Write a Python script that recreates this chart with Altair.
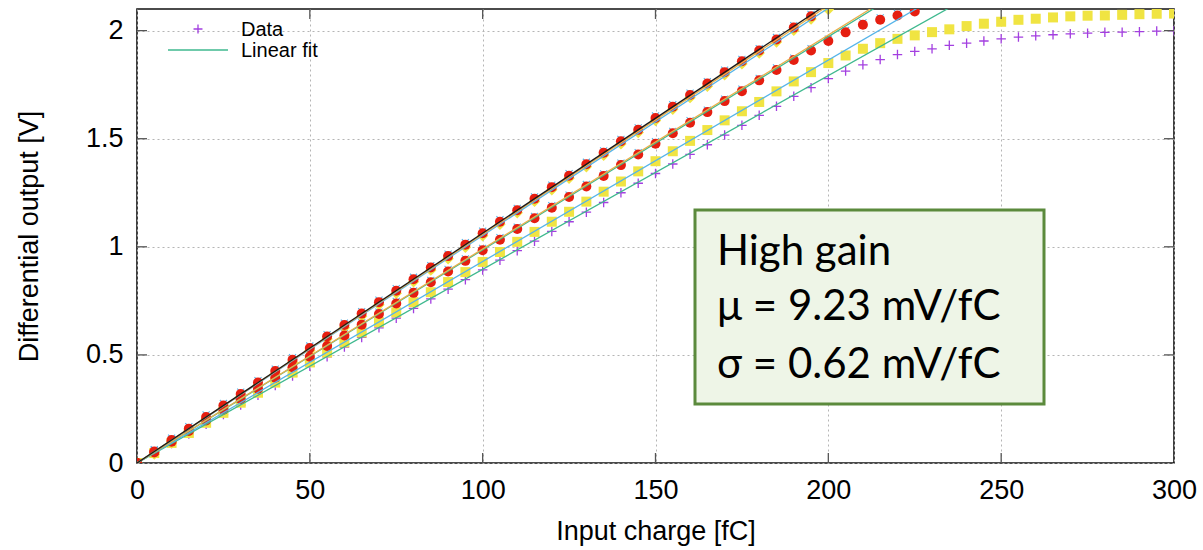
import altair as alt
import pandas as pd

# ---------------- data ----------------
charge = list(range(0, 301, 5))  # input charge grid [fC]

# lowest-gain channel (purple +), 0..300 fC
g4_plus = [0.000, 0.045, 0.090, 0.134, 0.179, 0.224, 0.268, 0.313, 0.358, 0.402,
           0.447, 0.491, 0.536, 0.581, 0.625, 0.670, 0.715, 0.759, 0.804, 0.848,
           0.893, 0.938, 0.982, 1.026, 1.071, 1.116, 1.160, 1.205, 1.250, 1.294,
           1.339, 1.383, 1.428, 1.472, 1.517, 1.562, 1.608, 1.650, 1.696, 1.736,
           1.778, 1.813, 1.842, 1.866, 1.889, 1.904, 1.916, 1.932, 1.942, 1.952,
           1.962, 1.970, 1.976, 1.981, 1.985, 1.988, 1.992, 1.993, 1.995, 1.998,
           1.999]
# yellow squares, 0..300 fC
g3_square = [0.000, 0.046, 0.093, 0.139, 0.186, 0.232, 0.279, 0.325, 0.372, 0.418,
             0.465, 0.511, 0.558, 0.604, 0.651, 0.697, 0.744, 0.790, 0.837, 0.883,
             0.930, 0.976, 1.023, 1.069, 1.116, 1.162, 1.209, 1.255, 1.302, 1.349,
             1.396, 1.442, 1.490, 1.540, 1.585, 1.627, 1.670, 1.719, 1.765, 1.808,
             1.850, 1.885, 1.916, 1.942, 1.962, 1.978, 1.993, 2.006, 2.021, 2.032,
             2.041, 2.050, 2.055, 2.061, 2.066, 2.069, 2.070, 2.073, 2.076, 2.078,
             2.079]
# second group: red circles and light-blue crosses, 0..225 fC
g2_circle = [0.000, 0.049, 0.098, 0.148, 0.197, 0.246, 0.295, 0.344, 0.394, 0.443,
             0.492, 0.541, 0.590, 0.640, 0.689, 0.738, 0.787, 0.836, 0.886, 0.935,
             0.984, 1.033, 1.082, 1.132, 1.181, 1.230, 1.279, 1.328, 1.378, 1.427,
             1.477, 1.525, 1.574, 1.623, 1.674, 1.720, 1.770, 1.818, 1.864, 1.908,
             1.952, 1.992, 2.027, 2.050, 2.070, 2.089]
g2_cross = [0.000, 0.058, 0.107, 0.157, 0.206, 0.255, 0.304, 0.353, 0.403, 0.452,
            0.501, 0.550, 0.599, 0.649, 0.698, 0.747, 0.796, 0.845, 0.895, 0.944,
            0.993, 1.042, 1.091, 1.141, 1.190, 1.239, 1.288, 1.337, 1.387, 1.436,
            1.486, 1.534, 1.583, 1.632, 1.683, 1.729, 1.779, 1.827, 1.873, 1.917,
            1.961, 2.001, 2.036, 2.059, 2.079, 2.098]
# highest group: red circles, yellow diamonds, light-blue crosses
g1_circle = [0.000, 0.053, 0.106, 0.159, 0.213, 0.266, 0.319, 0.372, 0.425, 0.478,
             0.532, 0.585, 0.638, 0.691, 0.744, 0.797, 0.850, 0.904, 0.957, 1.010,
             1.063, 1.116, 1.169, 1.222, 1.276, 1.329, 1.382, 1.435, 1.488, 1.541,
             1.596, 1.648, 1.702, 1.755, 1.808, 1.858, 1.908, 1.959, 2.014, 2.066]
g1_diamond = [0.000, 0.041, 0.094, 0.147, 0.201, 0.254, 0.307, 0.360, 0.413, 0.466,
              0.520, 0.573, 0.626, 0.679, 0.732, 0.785, 0.838, 0.892, 0.945, 0.998,
              1.051, 1.104, 1.157, 1.210, 1.264, 1.317, 1.370, 1.423, 1.476, 1.529,
              1.584, 1.636, 1.690, 1.743, 1.796, 1.846, 1.896, 1.947, 2.002, 2.054,
              2.098]
g1_cross = [0.000, 0.062, 0.115, 0.168, 0.222, 0.275, 0.328, 0.381, 0.434, 0.487,
            0.541, 0.594, 0.647, 0.700, 0.753, 0.806, 0.859, 0.913, 0.966, 1.019,
            1.072, 1.125, 1.178, 1.231, 1.285, 1.338, 1.391, 1.444, 1.497, 1.550,
            1.605, 1.657, 1.711, 1.764, 1.817, 1.867, 1.917, 1.968, 2.023, 2.075]

# linear fits (slope in mV/fC) and their colours
fit_ids = ["f1", "f2", "f3", "f4", "f5", "f6", "f7"]
fit_slopes = [8.96, 9.32, 9.86, 9.90, 10.52, 10.58, 10.63]
fit_colors = ["#3fb98f", "#56b4e9", "#3fb98f", "#e9b04c", "#56b4e9", "#e9b04c", "#1a1a1a"]

x_ticks = [0, 50, 100, 150, 200, 250, 300]
y_ticks = [0, 0.5, 1, 1.5, 2]

box_lines = ["High gain", "\u03bc = 9.23 mV/fC", "\u03c3 = 0.62 mV/fC"]
legend_labels = ["Data", "Linear fit"]

# ---------------- layout ----------------
W, H = 1037, 454
PLUS = "M-1,0L1,0M0,-1L0,1"
XSHAPE = "M-1,-1L1,1M-1,1L1,-1"
PURPLE = "#a33fe0"
LBLUE = "#56b4e9"
YELLOW = "#f0e442"
RED = "#e51e10"

xscale = alt.Scale(domain=[0, 300], nice=False, zero=False)
yscale = alt.Scale(domain=[0, 2.1], nice=False, zero=False)
xaxis = alt.Axis(values=x_ticks, title="Input charge [fC]", format="d", titlePadding=15)
yaxis = alt.Axis(values=y_ticks, title="Differential output [V]", format="~g", titlePadding=42)


def X(f):
    return alt.X(f, type="quantitative", scale=xscale, axis=xaxis)


def Y(f):
    return alt.Y(f, type="quantitative", scale=yscale, axis=yaxis)


def series(vals):
    return pd.DataFrame({"q": charge[:len(vals)], "v": vals})


one = alt.Data(values=[{"a": 1}])

# fits
fit_rows = []
for fid, s in zip(fit_ids, fit_slopes):
    for q in (0, 300):
        fit_rows.append({"id": fid, "q": q, "v": s * q / 1000.0})
fits = pd.DataFrame(fit_rows)

plus = alt.Chart(series(g4_plus)).mark_point(
    shape=PLUS, filled=False, color=PURPLE, strokeWidth=1.3, size=90, clip=True, opacity=1
).encode(x=X("q"), y=Y("v"))
cross2 = alt.Chart(series(g2_cross)).mark_point(
    shape=XSHAPE, filled=False, color=LBLUE, strokeWidth=1.1, size=50, clip=True, opacity=1
).encode(x=X("q"), y=Y("v"))
cross1 = alt.Chart(series(g1_cross)).mark_point(
    shape=XSHAPE, filled=False, color=LBLUE, strokeWidth=1.1, size=50, clip=True, opacity=1
).encode(x=X("q"), y=Y("v"))
square = alt.Chart(series(g3_square)).mark_square(
    color=YELLOW, size=100, clip=True, opacity=1
).encode(x=X("q"), y=Y("v"))
diamond = alt.Chart(series(g1_diamond)).mark_point(
    shape="diamond", filled=True, color=YELLOW, size=130, clip=True, opacity=1
).encode(x=X("q"), y=Y("v"))
circ2 = alt.Chart(series(g2_circle)).mark_circle(
    color=RED, size=100, clip=True, opacity=1
).encode(x=X("q"), y=Y("v"))
circ1 = alt.Chart(series(g1_circle)).mark_circle(
    color=RED, size=100, clip=True, opacity=1
).encode(x=X("q"), y=Y("v"))

lines = alt.Chart(fits).mark_line(strokeWidth=1.3, clip=True).encode(
    x=X("q"), y=Y("v"),
    color=alt.Color("id:N", scale=alt.Scale(domain=fit_ids, range=fit_colors), legend=None),
    order=alt.Order("q:Q"),
)

# inward ticks (gnuplot style)
xt = pd.DataFrame({"t": x_ticks[1:-1]})
yt = pd.DataFrame({"t": y_ticks[1:]})
TK = 10
tick_style = dict(color="#555555", strokeWidth=1.3)
tb = alt.Chart(xt).mark_rule(**tick_style).encode(x=X("t"), y=alt.value(H), y2=alt.value(H - TK))
tt = alt.Chart(xt).mark_rule(**tick_style).encode(x=X("t"), y=alt.value(0), y2=alt.value(TK))
tl = alt.Chart(yt).mark_rule(**tick_style).encode(y=Y("t"), x=alt.value(0), x2=alt.value(TK))
tr = alt.Chart(yt).mark_rule(**tick_style).encode(y=Y("t"), x=alt.value(W - TK), x2=alt.value(W))

# legend (top-left, inside the plot)
leg_plus = alt.Chart(one).mark_point(
    shape=PLUS, filled=False, color=PURPLE, strokeWidth=1.3, size=80, opacity=1
).encode(x=alt.value(61), y=alt.value(20))
leg_line = alt.Chart(one).mark_rule(color=fit_colors[0], strokeWidth=1.3).encode(
    x=alt.value(31), x2=alt.value(91), y=alt.value(41))
leg_t1 = alt.Chart(one).mark_text(
    align="left", baseline="middle", font="Liberation Sans", fontSize=20, color="black"
).encode(x=alt.value(104), y=alt.value(21), text=alt.value(legend_labels[0]))
leg_t2 = alt.Chart(one).mark_text(
    align="left", baseline="middle", font="Liberation Sans", fontSize=20, color="black"
).encode(x=alt.value(104), y=alt.value(42), text=alt.value(legend_labels[1]))

# annotation box
box = alt.Chart(one).mark_rect(fill="#eef5e7", stroke="#5b8a3c", strokeWidth=3).encode(
    x=alt.value(558), x2=alt.value(907), y=alt.value(201), y2=alt.value(395))
box_texts = []
for txt, yy in zip(box_lines, [256, 311, 369]):
    box_texts.append(
        alt.Chart(one).mark_text(
            align="left", baseline="alphabetic", font="Lato", fontSize=42, color="black"
        ).encode(x=alt.value(580), y=alt.value(yy), text=alt.value(txt))
    )

chart = alt.layer(
    plus, cross2, cross1, square, diamond, circ2, circ1, lines,
    tb, tt, tl, tr,
    leg_plus, leg_line, leg_t1, leg_t2,
    box, *box_texts,
).properties(
    width=W, height=H,
    autosize=alt.AutoSizeParams(type="none"),
    padding={"left": 137, "top": 9, "right": 29, "bottom": 87},
).configure_view(
    stroke="#111111", strokeWidth=1.6
).configure_axis(
    domain=False, ticks=False, grid=True, gridDash=[2, 3], gridColor="#b5b5b5", gridWidth=1,
    labelFont="Liberation Sans", labelFontSize=27, labelColor="black", labelPadding=14,
    labelFlush=False,
    titleFont="Liberation Sans", titleFontSize=27, titleFontWeight="normal", titleColor="black",
)

chart.save("out.html", embed_options={"renderer": "svg", "actions": False})
